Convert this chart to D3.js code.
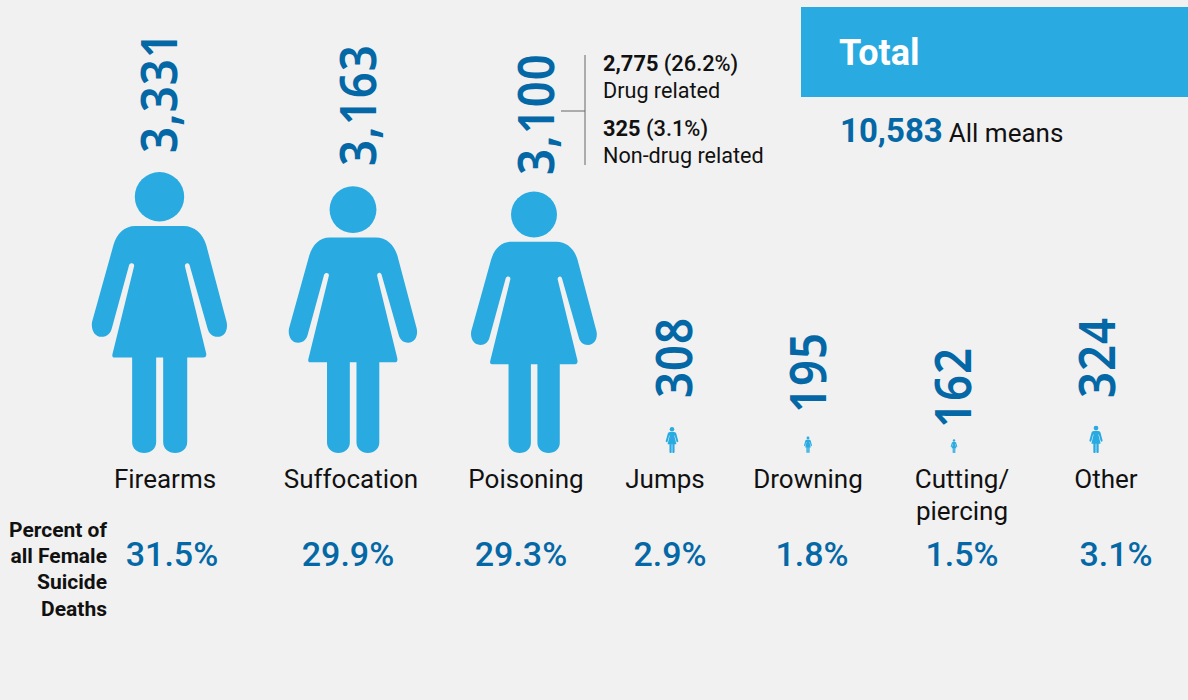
<!DOCTYPE html>
<html>
<head>
<meta charset="utf-8">
<script src="https://cdn.jsdelivr.net/npm/d3@7"></script>
<style>
  body { margin: 0; background: #f1f1f1; }
  text { font-family: Roboto, sans-serif; }
</style>
</head>
<body>
<div id="app"></div>
<script>
const categories = ["Firearms", "Suffocation", "Poisoning", "Jumps", "Drowning", "Cutting/piercing", "Other"];
const deaths = [3331, 3163, 3100, 308, 195, 162, 324];
const percents = [31.5, 29.9, 29.3, 2.9, 1.8, 1.5, 3.1];
const totalDeaths = 10583;

// where things sit, one entry per category
const iconX = [159.5, 353, 534, 672, 808, 954, 1096];
const countX = [177, 376, 554, 692, 826, 971, 1115];
const countY = [153, 166, 175, 398, 413, 428, 398];
const labelX = [165, 351, 526, 665, 808, 962, 1106];
const percentX = [172, 348, 521, 670, 812, 962, 1116];

const width = 1188;
const height = 700;
const baseline = 453;
const lightBlue = "#29abe2";
const darkBlue = "#0568a6";

const svg = d3.create("svg").attr("width", width).attr("height", height).style("display", "block");

svg.append("rect").attr("width", width).attr("height", height).attr("fill", "#f1f1f1");

const iconHeight = d3.scaleLinear().domain([0, 3331]).range([0, 281]);
const xIcon = d3.scaleOrdinal().domain(categories).range(iconX);
const xCount = d3.scaleOrdinal().domain(categories).range(countX);
const yCount = d3.scaleOrdinal().domain(categories).range(countY);
const xLabel = d3.scaleOrdinal().domain(categories).range(labelX);
const xPercent = d3.scaleOrdinal().domain(categories).range(percentX);

// figure glyph, 842 units tall, origin at top centre
const bodyPath = "M-73,162 L72,162 C105,162 130,185 140,219 L201,449 C206,472 196,494 174,494 C158,494 148,484 144,469 " +
  "L90,279 C87,271 77,271 76,282 L140,544 C141,552 138,556 132,556 L83,556 L83,809 C83,829 67,842 47,842 C27,842 11,829 11,809 L11,556 " +
  "L-10,556 L-10,809 C-10,829 -26,842 -46,842 C-66,842 -82,829 -82,809 L-82,556 L-135,556 C-141,556 -142,552 -141,546 " +
  "L-76,282 C-75,272 -88,271 -91,279 L-143,469 C-147,484 -157,494 -173,494 C-195,494 -206,472 -202,449 L-138,219 C-128,185 -105,162 -73,162 Z";

const rows = categories.map((name, i) => ({ name, count: deaths[i], pct: percents[i] }));

const icons = svg.append("g").selectAll("g").data(rows).join("g")
  .attr("transform", (d) => `translate(${xIcon(d.name)},${baseline - iconHeight(d.count)}) scale(${iconHeight(d.count) / 842})`)
  .attr("fill", lightBlue);

icons.append("circle").attr("cx", 0).attr("cy", 74).attr("r", 74);
icons.append("path").attr("d", bodyPath);

// Noto digits are a little short, stretched across the cap height
svg.append("g").selectAll("text").data(rows).join("text")
  .attr("transform", (d) => `translate(${xCount(d.name)},${yCount(d.name)}) rotate(-90) scale(1,1.1)`)
  .style("font-family", "'Noto Sans', sans-serif")
  .style("letter-spacing", "1px")
  .attr("font-size", 45.5)
  .attr("font-weight", 600)
  .attr("fill", darkBlue)
  .text((d) => d3.format(",")(d.count));

const labels = svg.append("g").selectAll("text").data(rows).join("text")
  .attr("x", (d) => xLabel(d.name))
  .attr("y", 488)
  .attr("text-anchor", "middle")
  .attr("font-size", 26)
  .attr("fill", "#111");

labels.filter((d) => !d.name.includes("/")).text((d) => d.name);
labels.filter((d) => d.name.includes("/")).each(function (d) {
  const parts = d.name.split("/");
  d3.select(this).append("tspan").attr("x", xLabel(d.name)).text(parts[0] + "/");
  d3.select(this).append("tspan").attr("x", xLabel(d.name)).attr("dy", 32).text(parts[1]);
});

svg.append("g").selectAll("text").data(rows).join("text")
  .attr("x", (d) => xPercent(d.name))
  .attr("y", 566)
  .attr("text-anchor", "middle")
  .attr("font-size", 34)
  .attr("font-weight", 500)
  .attr("fill", darkBlue)
  .text((d) => d3.format(".1f")(d.pct) + "%");

const rowTitle = ["Percent of", "all Female", "Suicide", "Deaths"];
const rowTitleY = [537, 563, 589, 616];
svg.append("g").selectAll("text").data(rowTitle).join("text")
  .attr("x", 107)
  .attr("y", (d, i) => rowTitleY[i])
  .attr("text-anchor", "end")
  .attr("font-size", 21)
  .attr("font-weight", 700)
  .attr("fill", "#111")
  .text((d) => d);

// poisoning breakdown
svg.append("path")
  .attr("d", "M561,111H585M585,55V165")
  .attr("fill", "none")
  .attr("stroke", "#666")
  .attr("stroke-width", 1);

const breakdown = [
  { count: "2,775", share: " (26.2%)", name: "Drug related", y: 71 },
  { count: "325", share: " (3.1%)", name: "Non-drug related", y: 136 }
];
const notes = svg.append("g").selectAll("g").data(breakdown).join("g");
const head = notes.append("text").attr("x", 603).attr("y", (d) => d.y).attr("font-size", 21.8).attr("fill", "#111");
head.append("tspan").attr("font-weight", 700).text((d) => d.count);
head.append("tspan").attr("font-weight", 500).text((d) => d.share);
notes.append("text").attr("x", 603).attr("y", (d) => d.y + 27).attr("font-size", 21.6).attr("fill", "#111").text((d) => d.name);

// total box
svg.append("rect").attr("x", 801).attr("y", 7).attr("width", 387).attr("height", 90).attr("fill", lightBlue);
svg.append("text").attr("x", 839).attr("y", 65).attr("font-size", 36).attr("font-weight", 700).attr("fill", "#fff").text("Total");
const total = svg.append("text").attr("x", 840).attr("y", 142);
total.append("tspan").attr("font-size", 33).attr("font-weight", 700).attr("fill", darkBlue).text(d3.format(",")(totalDeaths));
total.append("tspan").attr("font-size", 26).attr("fill", "#111").attr("dx", 6).text("All means");

d3.select("#app").append(() => svg.node());
</script>
</body>
</html>
